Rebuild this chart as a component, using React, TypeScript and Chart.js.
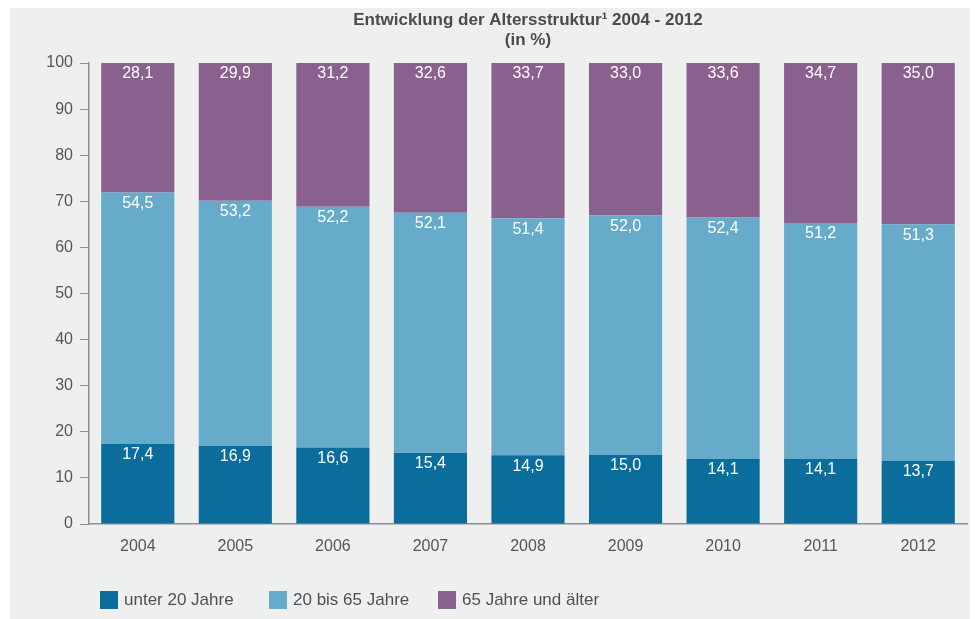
import React, { useEffect, useRef } from "react";
import { Chart, registerables } from "chart.js";

Chart.register(...registerables);

const years = ["2004", "2005", "2006", "2007", "2008", "2009", "2010", "2011", "2012"];
const under20 = [17.4, 16.9, 16.6, 15.4, 14.9, 15.0, 14.1, 14.1, 13.7];
const from20to65 = [54.5, 53.2, 52.2, 52.1, 51.4, 52.0, 52.4, 51.2, 51.3];
const over65 = [28.1, 29.9, 31.2, 32.6, 33.7, 33.0, 33.6, 34.7, 35.0];
const seriesNames = ["unter 20 Jahre", "20 bis 65 Jahre", "65 Jahre und älter"];
const seriesColors = ["#0b6d9c", "#66abc9", "#8a618e"];
const titleLines = ["Entwicklung der Altersstruktur\u00b9 2004 - 2012", "(in %)"];

const FONT = "'Liberation Sans', Arial, sans-serif";

const fmt = (v: number) => v.toFixed(1).replace(".", ",");

const labelPlugin = {
  id: "segLabels",
  afterDatasetsDraw(chart: any) {
    const ctx = chart.ctx;
    ctx.save();
    ctx.fillStyle = "#ffffff";
    ctx.font = `16px ${FONT}`;
    ctx.textAlign = "center";
    ctx.textBaseline = "middle";
    chart.data.datasets.forEach((ds: any, i: number) => {
      const meta = chart.getDatasetMeta(i);
      meta.data.forEach((bar: any, j: number) => {
        const top = Math.min(bar.y, bar.base);
        ctx.fillText(fmt(ds.data[j]), bar.x, Math.max(top, chart.chartArea.top) + 11);
      });
    });
    ctx.restore();
  },
};

const titlePlugin = {
  id: "centerTitle",
  afterDraw(chart: any) {
    const ctx = chart.ctx;
    const ca = chart.chartArea;
    const cx = (ca.left + ca.right) / 2;
    ctx.save();
    ctx.fillStyle = "#4a4a4f";
    ctx.font = `bold 17px ${FONT}`;
    ctx.textAlign = "center";
    ctx.textBaseline = "middle";
    titleLines.forEach((t, i) => ctx.fillText(t, cx, 12 + i * 20));
    ctx.restore();
  },
};

export default function App() {
  const ref = useRef<HTMLCanvasElement | null>(null);

  useEffect(() => {
    if (!ref.current) return;
    const chart = new Chart(ref.current, {
      type: "bar",
      data: {
        labels: years,
        datasets: [under20, from20to65, over65].map((d, i) => ({
          label: seriesNames[i],
          data: d,
          backgroundColor: seriesColors[i],
          borderWidth: 0,
          barPercentage: 0.75,
          categoryPercentage: 1,
        })),
      },
      options: {
        responsive: false,
        animation: false,
        layout: { padding: { top: 55, right: 11, left: 0, bottom: 55 } },
        plugins: {
          legend: { display: false },
          title: { display: false },
          tooltip: { enabled: false },
        },
        scales: {
          x: {
            stacked: true,
            grid: { drawOnChartArea: false, drawTicks: false, color: "#8c9096" },
            border: { display: true, color: "#8c9096", width: 1.5 },
            ticks: { color: "#555", font: { size: 16, family: FONT }, padding: 13 },
            afterFit: (s: any) => {
              s.height = 40;
            },
          },
          y: {
            stacked: true,
            min: 0,
            max: 100,
            grid: { drawOnChartArea: false, drawTicks: true, tickLength: 9, color: "#8c9096" },
            border: { display: true, color: "#8c9096", width: 1.5 },
            ticks: { stepSize: 10, color: "#555", font: { size: 16, family: FONT }, padding: 7 },
            afterFit: (s: any) => {
              s.width = 79;
            },
          },
        },
      },
      plugins: [labelPlugin, titlePlugin],
    });
    return () => chart.destroy();
  }, []);

  return (
    <div
      style={{
        position: "relative",
        marginLeft: 2,
        width: 968,
        height: 611,
        background: "#eeefef",
        overflow: "hidden",
      }}
    >
      <canvas ref={ref} width={968} height={611} style={{ display: "block" }} />
      {seriesNames.map((name, i) => (
        <div
          key={name}
          style={{
            position: "absolute",
            left: 90 + i * 169,
            top: 582,
            display: "flex",
            alignItems: "center",
            fontFamily: FONT,
            fontSize: 17,
            color: "#4f4f55",
            whiteSpace: "nowrap",
          }}
        >
          <span
            style={{
              display: "inline-block",
              width: 18,
              height: 18,
              background: seriesColors[i],
              marginRight: 6,
            }}
          />
          <span>{name}</span>
        </div>
      ))}
    </div>
  );
}
